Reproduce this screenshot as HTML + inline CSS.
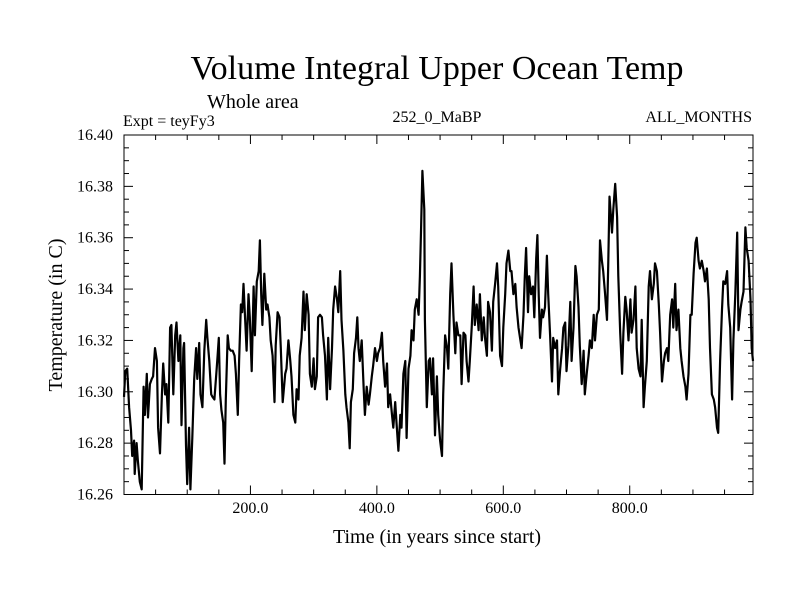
<!DOCTYPE html>
<html><head><meta charset="utf-8"><style>
html,body{margin:0;padding:0;background:#fff;}
svg{display:block;font-family:"Liberation Serif",serif;}
</style></head><body>
<svg id="chart" width="800" height="600" viewBox="0 0 800 600">
<rect width="800" height="600" fill="#fff"/>
<text x="437" y="79" font-size="34" text-anchor="middle">Volume Integral Upper Ocean Temp</text>
<text x="207" y="108" font-size="20">Whole area</text>
<text x="123" y="126" font-size="16">Expt = teyFy3</text>
<text x="437" y="122" font-size="16" text-anchor="middle">252_0_MaBP</text>
<text x="752" y="122" font-size="16" text-anchor="end">ALL_MONTHS</text>
<text transform="translate(62,315) rotate(-90)" font-size="20" text-anchor="middle">Temperature (in C)</text>
<text x="437" y="543" font-size="20" text-anchor="middle">Time (in years since start)</text>
<g id="axes"></g>
<path id="series" fill="none" stroke="#000" stroke-width="2.2" stroke-linejoin="round"/>
<rect x="124" y="135" width="629" height="359.5" fill="none" stroke="#000" stroke-width="1"/>
</svg>
<script>
const years = [0,2,5,8,11,13,16,17,20,22,25,28,31,33,36,38,41,44,46,49,52,54,57,60,62,65,67,70,73,75,78,81,83,86,89,91,94,95,98,100,103,105,108,111,114,116,119,121,124,127,130,132,135,138,140,143,146,148,150,152,154,157,159,161,164,166,169,172,175,177,180,182,185,187,189,192,194,197,199,202,205,207,210,213,215,217,219,222,225,227,230,232,235,238,240,243,246,248,251,255,257,260,263,265,268,271,273,276,278,281,284,286,289,292,294,297,300,302,305,307,310,313,315,318,321,323,326,329,331,334,337,339,342,344,347,350,352,355,357,359,362,364,367,369,371,373,376,379,381,384,387,389,392,394,397,400,402,405,408,410,413,416,418,421,424,426,429,431,434,437,439,442,445,447,450,453,455,458,460,463,466,468,470,472,475,476,479,482,484,487,489,492,495,497,500,503,505,508,511,513,516,518,521,524,526,529,532,534,537,540,542,545,547,550,553,555,558,561,563,566,569,571,574,576,579,582,584,587,590,592,595,598,600,603,605,608,611,613,616,619,621,624,627,629,632,634,636,639,641,644,647,649,652,654,656,658,661,663,666,669,671,674,677,679,682,685,687,690,693,695,698,700,703,706,708,711,714,716,719,721,724,727,729,732,735,737,740,743,745,748,751,753,756,758,761,764,766,768,770,772,774,777,780,782,785,788,790,793,795,798,801,803,806,809,811,814,817,819,822,824,827,830,832,835,838,840,843,846,848,851,854,856,859,861,864,867,869,872,874,877,880,882,885,888,890,893,896,898,901,904,906,909,911,914,917,919,922,925,927,930,933,935,938,940,943,946,948,951,954,956,959,962,964,967,970,972,975,977,980,983,985,988,991,993,995];
const temps = [16.298,16.308,16.309,16.294,16.285,16.275,16.281,16.268,16.280,16.273,16.265,16.262,16.302,16.291,16.307,16.290,16.303,16.305,16.306,16.317,16.312,16.286,16.276,16.299,16.311,16.299,16.303,16.288,16.325,16.326,16.299,16.322,16.327,16.312,16.322,16.287,16.317,16.319,16.279,16.264,16.286,16.262,16.282,16.305,16.317,16.305,16.319,16.299,16.294,16.316,16.328,16.321,16.312,16.299,16.298,16.297,16.307,16.314,16.321,16.299,16.293,16.288,16.272,16.297,16.322,16.317,16.316,16.316,16.314,16.307,16.291,16.312,16.334,16.331,16.342,16.326,16.316,16.338,16.329,16.308,16.341,16.322,16.343,16.347,16.359,16.338,16.326,16.346,16.332,16.334,16.329,16.320,16.314,16.296,16.318,16.331,16.329,16.317,16.296,16.307,16.309,16.320,16.312,16.306,16.291,16.288,16.301,16.297,16.314,16.321,16.339,16.324,16.338,16.330,16.307,16.302,16.313,16.301,16.306,16.329,16.330,16.329,16.322,16.314,16.297,16.321,16.301,16.317,16.332,16.341,16.336,16.331,16.347,16.328,16.316,16.299,16.294,16.288,16.278,16.296,16.301,16.315,16.321,16.329,16.317,16.312,16.320,16.302,16.291,16.302,16.295,16.299,16.306,16.310,16.317,16.312,16.315,16.317,16.323,16.312,16.302,16.311,16.294,16.299,16.291,16.286,16.296,16.288,16.277,16.291,16.286,16.307,16.312,16.282,16.309,16.314,16.324,16.320,16.332,16.336,16.330,16.345,16.364,16.386,16.371,16.328,16.294,16.312,16.313,16.299,16.313,16.283,16.306,16.291,16.281,16.275,16.299,16.322,16.317,16.309,16.338,16.350,16.330,16.315,16.327,16.322,16.322,16.303,16.323,16.322,16.312,16.304,16.312,16.325,16.341,16.326,16.334,16.324,16.338,16.320,16.329,16.321,16.314,16.335,16.331,16.316,16.335,16.342,16.350,16.341,16.314,16.310,16.325,16.338,16.350,16.355,16.347,16.347,16.338,16.342,16.333,16.325,16.320,16.317,16.330,16.345,16.356,16.331,16.345,16.338,16.341,16.329,16.352,16.361,16.338,16.321,16.332,16.329,16.333,16.353,16.338,16.322,16.304,16.321,16.317,16.320,16.299,16.309,16.317,16.325,16.327,16.308,16.318,16.335,16.312,16.325,16.349,16.345,16.333,16.318,16.303,16.316,16.299,16.307,16.314,16.320,16.317,16.330,16.320,16.330,16.332,16.359,16.351,16.347,16.338,16.328,16.349,16.376,16.369,16.362,16.371,16.381,16.368,16.345,16.323,16.307,16.323,16.337,16.332,16.320,16.336,16.323,16.328,16.341,16.317,16.309,16.306,16.328,16.294,16.302,16.312,16.341,16.347,16.336,16.342,16.350,16.347,16.334,16.323,16.304,16.312,16.315,16.317,16.312,16.330,16.336,16.325,16.342,16.324,16.332,16.317,16.312,16.306,16.302,16.297,16.307,16.330,16.330,16.346,16.358,16.360,16.351,16.348,16.351,16.347,16.343,16.348,16.336,16.317,16.299,16.297,16.294,16.286,16.284,16.312,16.332,16.343,16.342,16.347,16.334,16.325,16.297,16.320,16.338,16.362,16.324,16.332,16.335,16.339,16.364,16.356,16.351,16.336,16.317,16.312];
const yTickValues = [16.26,16.28,16.30,16.32,16.34,16.36,16.38,16.40];
const yTickLabels = ["16.26","16.28","16.30","16.32","16.34","16.36","16.38","16.40"];
const xTickValues = [200,400,600,800];
const xTickLabels = ["200.0","400.0","600.0","800.0"];

const X0=124, X1=753, Y0=494.5, Y1=135;
const XMIN=0, XMAX=995, YMIN=16.26, YMAX=16.40;
function sx(v){return X0+(v-XMIN)/(XMAX-XMIN)*(X1-X0);}
function sy(v){return Y0-(v-YMIN)/(YMAX-YMIN)*(Y0-Y1);}
const NS="http://www.w3.org/2000/svg";
const axes=document.getElementById('axes');
function line(x1,y1,x2,y2,name){
  const l=document.createElementNS(NS,'line');
  l.setAttribute('x1',x1);l.setAttribute('y1',y1);l.setAttribute('x2',x2);l.setAttribute('y2',y2);
  l.setAttribute('stroke','#000');l.setAttribute('stroke-width','1');
  
  
  axes.appendChild(l);
}
function txt(x,y,s,anchor,name){
  const t=document.createElementNS(NS,'text');
  t.setAttribute('x',x);t.setAttribute('y',y);t.setAttribute('font-size','16');t.setAttribute('text-anchor',anchor);
  t.textContent=s;
  
  
  axes.appendChild(t);
}
for(let i=0;i<=28;i++){
  const v=YMIN+i*0.005, y=sy(v), major=(i%4===0);
  const len=major?9:5;
  line(X0,y,X0+len,y,'y-tick');
  line(X1,y,X1-len,y,'y-tick-right');
}
yTickValues.forEach((v,i)=>{ txt(113,sy(v)+5,yTickLabels[i],'end','y-tick-label'); });
for(let v=50; v<XMAX; v+=50){
  const x=sx(v), major=(v%200===0);
  const len=major?9:5;
  line(x,Y0,x,Y0-len,'x-tick');
  line(x,Y1,x,Y1+len,'x-tick-top');
}
xTickValues.forEach((v,i)=>{ txt(sx(v),513,xTickLabels[i],'middle','x-tick-label'); });
let d='';
years.forEach((yr,i)=>{ d+=(i?'L':'M')+sx(yr).toFixed(1)+','+sy(temps[i]).toFixed(1); });
document.getElementById('series').setAttribute('d',d);
</script>
</body></html>
